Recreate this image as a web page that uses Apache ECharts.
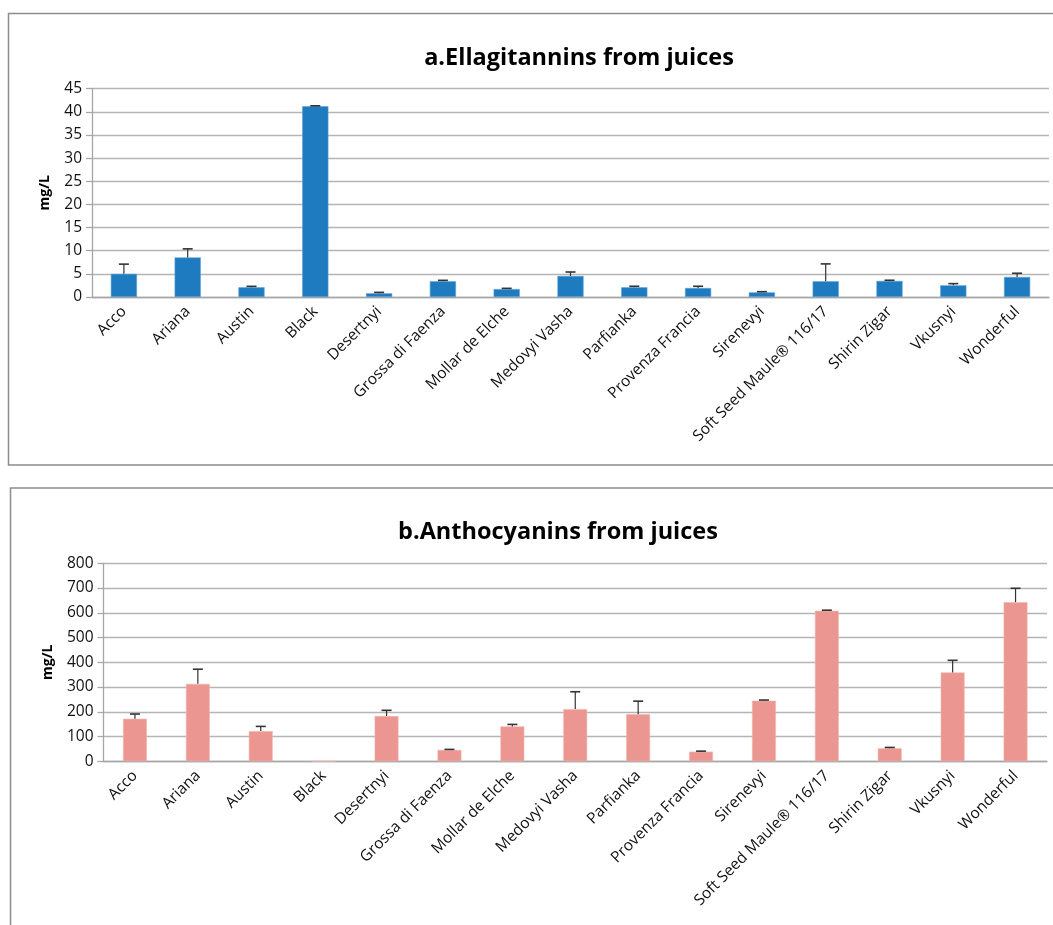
<!DOCTYPE html>
<html>
<head>
<meta charset="utf-8">
<script src="https://cdn.jsdelivr.net/npm/echarts@6/dist/echarts.min.js"></script>
<style>
html,body{margin:0;padding:0;background:#fff;}
#c{width:1053px;height:925px;}
</style>
</head>
<body>
<div id="c"></div>
<script>
const categories = ["Acco","Ariana","Austin","Black","Desertnyi","Grossa di Faenza","Mollar de Elche","Medovyi Vasha","Parfianka","Provenza Francia","Sirenevyi","Soft Seed Maule\u00ae 116/17","Shirin Zigar","Vkusnyi","Wonderful"];
const ellagitannins = [5.0, 8.55, 2.1, 41.2, 0.8, 3.4, 1.72, 4.55, 2.1, 1.95, 1.0, 3.4, 3.47, 2.52, 4.33];
const ellagitanninsErr = [2.1, 1.85, 0.2, 0.1, 0.2, 0.2, 0.15, 0.85, 0.22, 0.37, 0.15, 3.75, 0.15, 0.37, 0.8];
const anthocyanins = [172, 313, 122, 0, 183, 46, 141, 211, 190, 39, 245, 608, 52.5, 359, 643];
const anthocyaninsErr = [19, 59, 19, null, 23, 2, 8, 70, 53, 2, 2.5, 2.5, 3.5, 49, 56];
const ticksA = {min: 0, max: 45, interval: 5};
const ticksB = {min: 0, max: 800, interval: 100};

const font = "'Open Sans', sans-serif";

function errData(vals, errs) {
  return vals.map((v, i) => errs[i] == null ? [i, v, v] : [i, v, v + errs[i]]);
}
function errRender(params, api) {
  const idx = api.value(0);
  const base = api.coord([idx, api.value(1)]);
  const top = api.coord([idx, api.value(2)]);
  if (api.value(2) === api.value(1) && api.value(1) === 0) return null;
  const cap = 5;
  return {
    type: 'group',
    children: [
      {type: 'line', shape: {x1: base[0], y1: base[1], x2: top[0], y2: top[1]}, style: {stroke: '#333', lineWidth: 1.2}},
      {type: 'line', shape: {x1: top[0] - cap, y1: top[1], x2: top[0] + cap, y2: top[1]}, style: {stroke: '#333', lineWidth: 1.6}}
    ]
  };
}

const catAxis = (gi) => ({
  type: 'category', gridIndex: gi, data: categories, boundaryGap: true,
  axisLine: {lineStyle: {color: '#a6a6a6', width: 1.3}},
  axisTick: {show: false},
  axisLabel: {rotate: 45, interval: 0, margin: 12, color: '#111', fontFamily: font, fontSize: 15.5}
});
const valAxis = (gi, t, gap) => Object.assign({
  type: 'value', gridIndex: gi, name: 'mg/L', nameLocation: 'middle', nameGap: gap, nameRotate: 90,
  nameTextStyle: {fontFamily: font, fontWeight: 'bold', fontSize: 14, color: '#000'},
  axisLine: {show: true, lineStyle: {color: '#a6a6a6', width: 1.3}},
  axisTick: {show: true, length: 6, lineStyle: {color: '#a6a6a6', width: 1.3}},
  axisLabel: {color: '#111', fontFamily: font, fontSize: 15.5, margin: 10},
  splitLine: {lineStyle: {color: '#b5b5b5', width: 1.4}}
}, t);

const option = {
  animation: false,
  backgroundColor: '#fff',
  title: [
    {text: 'a.Ellagitannins from juices', left: 574, top: 41, textAlign: 'center',
     textStyle: {fontFamily: font, fontWeight: 'bold', fontSize: 23.5, color: '#000'}},
    {text: 'b.Anthocyanins from juices', left: 553, top: 515, textAlign: 'center',
     textStyle: {fontFamily: font, fontWeight: 'bold', fontSize: 23.5, color: '#000'}}
  ],
  graphic: [
    {type: 'rect', shape: {x: 8.5, y: 13.5, width: 1060, height: 451.5}, style: {fill: null, stroke: '#8c8c8c', lineWidth: 1.5}, z: -1},
    {type: 'rect', shape: {x: 10.5, y: 488, width: 1060, height: 460}, style: {fill: null, stroke: '#8c8c8c', lineWidth: 1.5}, z: -1}
  ],
  grid: [
    {left: 92, right: 4, top: 88.7, height: 208.3},
    {left: 103.5, right: 6, top: 563.3, height: 198}
  ],
  xAxis: [catAxis(0), catAxis(1)],
  yAxis: [valAxis(0, ticksA, 40), valAxis(1, ticksB, 48)],
  series: [
    {type: 'bar', xAxisIndex: 0, yAxisIndex: 0, data: ellagitannins, barWidth: '41%',
     itemStyle: {color: '#1f7bbf', borderColor: '#5a9fd6', borderWidth: 0.6}},
    {type: 'custom', xAxisIndex: 0, yAxisIndex: 0, data: errData(ellagitannins, ellagitanninsErr),
     renderItem: errRender, encode: {x: 0, y: [1, 2]}, z: 5},
    {type: 'bar', xAxisIndex: 1, yAxisIndex: 1, data: anthocyanins, barWidth: '38%',
     itemStyle: {color: '#eb9690', borderColor: '#f2b7b2', borderWidth: 0.6}},
    {type: 'custom', xAxisIndex: 1, yAxisIndex: 1, data: errData(anthocyanins, anthocyaninsErr),
     renderItem: errRender, encode: {x: 0, y: [1, 2]}, z: 5}
  ]
};

const chart = echarts.init(document.getElementById('c'), null, {renderer: 'canvas'});
chart.setOption(option);
</script>
</body>
</html>
